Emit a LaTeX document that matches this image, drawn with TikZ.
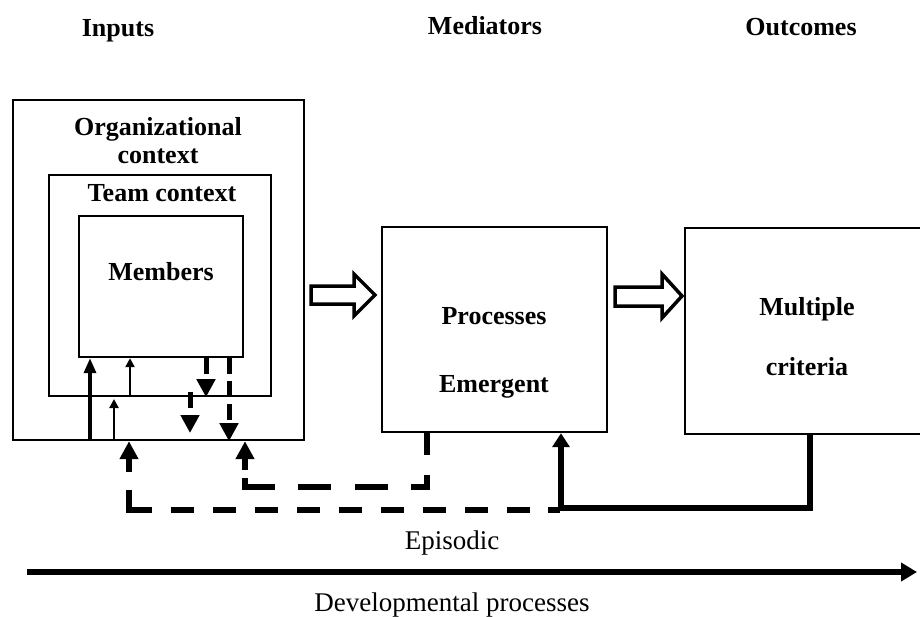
\documentclass[tikz,border=0pt]{standalone}
\usepackage{fontspec}
\setmainfont{Liberation Serif}
\usetikzlibrary{arrows.meta}
\begin{document}
\begin{tikzpicture}[x=1pt,y=-1pt,
  box/.style={draw, line width=2.2pt, rectangle, inner sep=0pt, anchor=north west},
  lbl/.style={font=\fontsize{26}{30}\selectfont\bfseries, inner sep=0pt, anchor=base},
  plaintxt/.style={font=\fontsize{27}{32}\selectfont, inner sep=0pt, anchor=base},
  upmid/.style={line width=3.4pt, -{Triangle[width=12pt,length=15pt]}},
  upthin/.style={line width=2.8pt, -{Triangle[width=9pt,length=9pt]}},
  dasharr/.style={line width=5pt, dash pattern=on 16pt off 7pt, -{Triangle[width=18pt,length=18pt]}},
  fbdash/.style={line width=5.5pt, line join=miter, -{Triangle[width=18pt,length=18pt]}},
  fbsolid/.style={line width=6pt, line join=miter, -{Triangle[width=17pt,length=14pt]}},
  blockarr/.style={draw, line width=3.5pt, line join=miter},
]
\useasboundingbox (0,0) rectangle (920,616);

% headers
\node[lbl] (hin) at (118,36) {Inputs};
\node[lbl] (hmed) at (485,34) {Mediators};
\node[lbl] (hout) at (801,35) {Outcomes};

% boxes
\node[box, minimum width=291pt, minimum height=340pt] (org) at (12,99) {};
\node[box, minimum width=222pt, minimum height=221pt] (team) at (48,174) {};
\node[box, minimum width=164pt, minimum height=141pt] (mem) at (78,215) {};
\node[box, minimum width=225pt, minimum height=205pt] (proc) at (381,226) {};
\node[box, minimum width=245pt, minimum height=206pt] (crit) at (684,227) {};

% box texts
\node[lbl] (torg1) at (158,135) {Organizational};
\node[lbl] (torg2) at (158,163) {context};
\node[lbl] (tteam) at (162,201) {Team context};
\node[lbl] (tmem) at (161,280) {Members};
\node[lbl] (tproc) at (494,324) {Processes};
\node[lbl] (temer) at (494,392) {Emergent};
\node[lbl] (tmul) at (807,315) {Multiple};
\node[lbl] (tcri) at (807,375) {criteria};

% column coordinates
\coordinate (c90) at (90,0);
\coordinate (c114) at (114,0);
\coordinate (c130) at (130,0);
\coordinate (c206) at (206,0);
\coordinate (c229) at (229,0);
\coordinate (c129) at (129,0);
\coordinate (c245) at (245,0);
\coordinate (c427) at (427,0);
\coordinate (c561) at (561,0);
\coordinate (c810) at (810,0);

% arrows inside the input boxes
\draw[upmid] (org.south -| c90) -- (mem.south -| c90);
\draw[upthin] (team.south -| c130) -- (mem.south -| c130);
\coordinate (e114) at (114,399);
\draw[upthin] (org.south -| c114) -- (e114);
\draw[dasharr] (mem.south -| c206) -- (team.south -| c206);
\coordinate (s190) at (190,392);
\coordinate (e190) at (190,433);
\draw[dasharr] (s190) -- (e190);
\draw[dasharr] (mem.south -| c229) -- (org.south -| c229);

% block arrows
\draw[blockarr] (311,286) -- (354,286) -- (354,274) -- (375,295) -- (354,316) -- (354,304) -- (311,304) -- cycle;
\draw[blockarr] (615,287) -- (662,287) -- (662,274) -- (682,296) -- (662,318) -- (662,306) -- (615,306) -- cycle;

% feedback loops
\coordinate (fb1) at (810,508);
\draw[fbsolid] (crit.south -| c810) -- (fb1) -| (proc.south -| c561);
\coordinate (fd1) at (560,510);
\coordinate (fd2) at (129,510);
\draw[fbdash, dash pattern=on 12pt off 18pt on 23pt off 19pt on 23pt off 19pt on 23pt off 19pt on 23pt off 19pt on 23pt off 19pt on 23pt off 19pt on 23pt off 19pt on 23pt off 19pt on 23pt off 19pt on 43pt off 18pt on 40pt off 10pt]
  (fd1) -- (fd2) -- (org.south -| c129);
\coordinate (id1) at (427,487);
\coordinate (id2) at (245,487);
\draw[fbdash, dash pattern=on 22pt off 20pt on 28pt off 23pt on 33pt off 24pt on 33pt off 23pt on 39pt off 8pt on 40pt off 10pt]
  (proc.south -| c427) -- (id1) -- (id2) -- (org.south -| c245);

% timeline
\node[plaintxt] (epi) at (452,549) {Episodic};
\coordinate (tl1) at (27,572);
\coordinate (tl2) at (917,572);
\draw[line width=6pt, -{Triangle[width=18pt,length=16pt]}] (tl1) -- (tl2);
\node[plaintxt] (dev) at (452,611) {Developmental processes};
\end{tikzpicture}
\end{document}
